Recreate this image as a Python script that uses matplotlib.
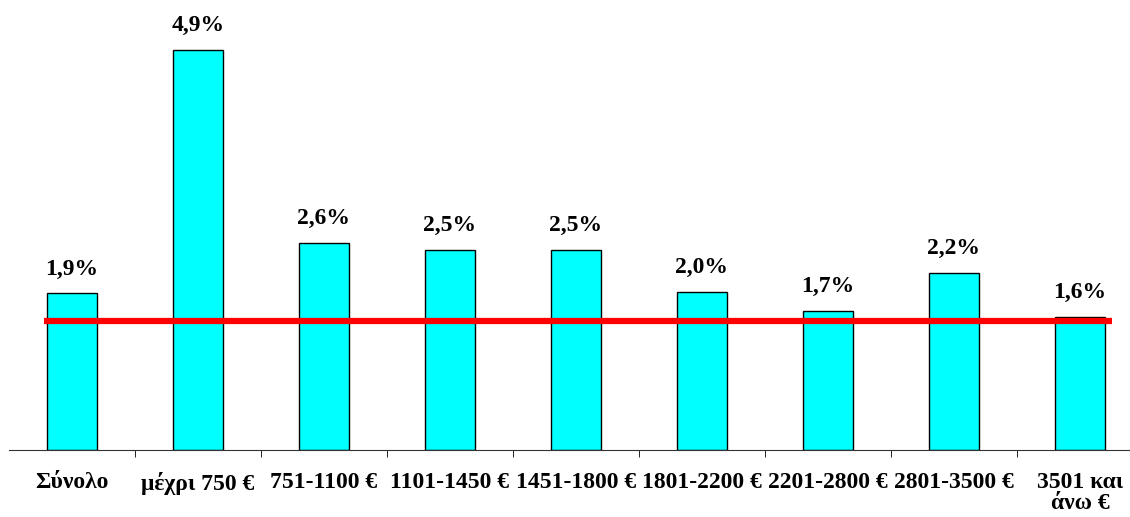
import matplotlib.pyplot as plt
import numpy as np

categories = ['Σύνολο', 'μέχρι 750 €', '751-1100 €', '1101-1450 €', '1451-1800 €',
              '1801-2200 €', '2201-2800 €', '2801-3500 €', '3501 και\nάνω €']
# bar heights as drawn in the picture, labels as printed
values = [1.92, 4.9, 2.54, 2.45, 2.45, 1.94, 1.70, 2.17, 1.63]
labels = ['1,9%', '4,9%', '2,6%', '2,5%', '2,5%', '2,0%', '1,7%', '2,2%', '1,6%']
ref_level = 1.58

plt.rcParams['font.family'] = ['Liberation Serif', 'DejaVu Serif']
plt.rcParams['font.weight'] = 'bold'

W, H = 1130, 517
px_per_unit = 81.6
fig = plt.figure(figsize=(W / 100, H / 100), dpi=100)
ax = fig.add_axes([9 / W, (H - 450) / H, 1134 / W, 450 / H])

x = np.arange(len(categories))
ax.bar(x, values, width=0.4, color='#00FFFF', edgecolor='black', linewidth=1, zorder=2)
for xi, v, t in zip(x, values, labels):
    ax.text(xi, v + 0.17, t, ha='center', va='bottom', fontsize=17, fontweight='bold')

ax.plot([-0.22, 8.25], [ref_level, ref_level], color='#FF0000', linewidth=4.5,
        solid_capstyle='butt', zorder=3)

ax.set_xlim(-0.5, 8.5)
ax.set_ylim(0, 450 / px_per_unit)
ax.set_xticks(x)
ax.set_xticklabels(categories, fontsize=17, fontweight='bold', linespacing=1.0)
ax.tick_params(axis='x', length=0, pad=16)
ax.set_xticks(np.arange(0.5, 8.5, 1), minor=True)
ax.tick_params(axis='x', which='minor', length=5, direction='out', color='black')
ax.set_yticks([])
for s in ['top', 'right', 'left']:
    ax.spines[s].set_visible(False)
ax.spines['bottom'].set_color('#333333')

fig.savefig('out.png', dpi=100)
